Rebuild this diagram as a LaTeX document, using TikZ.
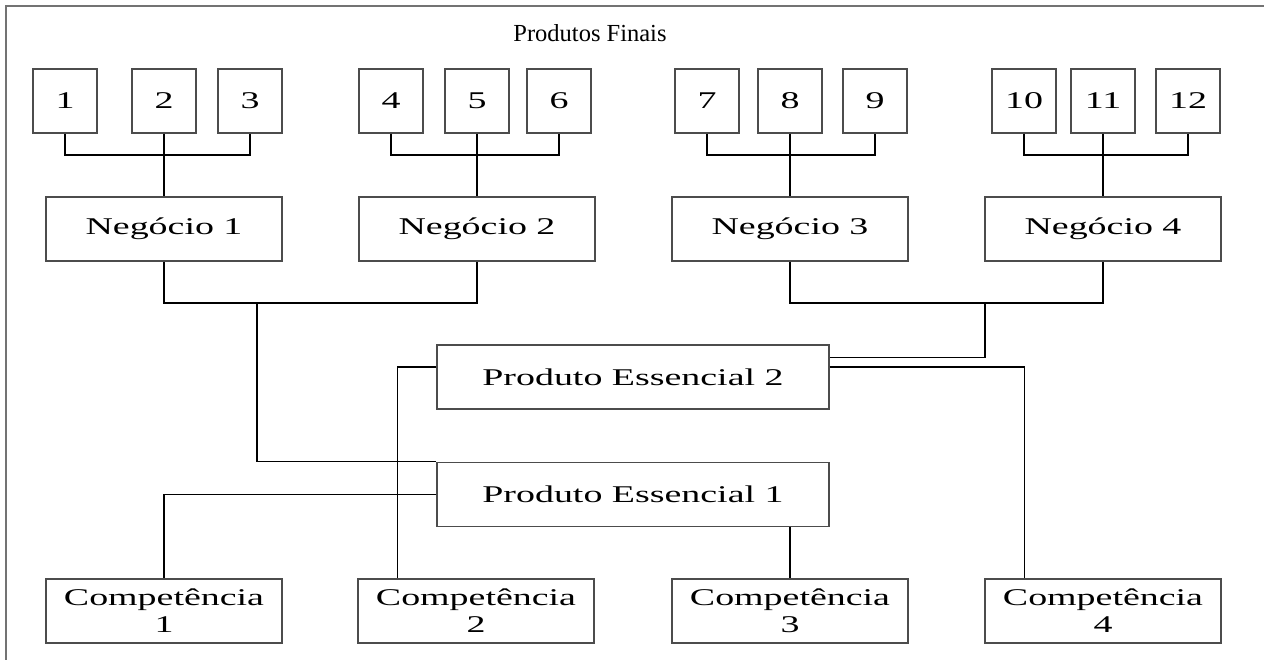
\documentclass[tikz,border=0pt]{standalone}
\usepackage{fontspec}
\setmainfont{Liberation Serif}
\newfontfamily\boxfont{Liberation Serif}[FakeStretch=1.58]
\usetikzlibrary{calc}

\definecolor{boxgray}{gray}{0.3}
\definecolor{framegray}{gray}{0.45}

\begin{document}
\begin{tikzpicture}[x=1pt,y=-1pt,
  box/.style={draw=boxgray, line width=1.4pt, rectangle, inner sep=0pt,
    minimum height=64pt, align=center,
    font=\boxfont\fontsize{24}{27}\selectfont},
  numbox/.style={box, minimum width=64pt},
  bizbox/.style={box, minimum width=236pt},
  corebox/.style={box, minimum width=392pt},
  compbox/.style={box, minimum width=236pt},
  link/.style={draw=black, line width=1.3pt},
  frameline/.style={draw=framegray, line width=2.4pt}]

\useasboundingbox (0,0) rectangle (1264,660);

% outer frame (top and left edges)
\draw[frameline] (6,660) -- (6,6) -- (1264,6);

% heading
\node (title) at (590,33) {\fontsize{24.5}{25}\selectfont Produtos Finais};

% final products
\node[numbox] (p1)  at (65,101)   {1};
\node[numbox] (p2)  at (164,101)  {2};
\node[numbox] (p3)  at (250,101)  {3};
\node[numbox] (p4)  at (391,101)  {4};
\node[numbox] (p5)  at (477,101)  {5};
\node[numbox] (p6)  at (559,101)  {6};
\node[numbox] (p7)  at (707,101)  {7};
\node[numbox] (p8)  at (790,101)  {8};
\node[numbox] (p9)  at (875,101)  {9};
\node[numbox] (p10) at (1024,101) {10};
\node[numbox] (p11) at (1103,101) {11};
\node[numbox] (p12) at (1188,101) {12};

% businesses
\node[bizbox] (n1) at (164,229)  {Negócio 1};
\node[bizbox] (n2) at (477,229)  {Negócio 2};
\node[bizbox] (n3) at (790,229)  {Negócio 3};
\node[bizbox] (n4) at (1103,229) {Negócio 4};

% core products
\node[corebox] (pe2) at (633,377)   {Produto Essencial 2};
\node[corebox] (pe1) at (633,494.5) {Produto Essencial 1};

% competences
\node[compbox] (c1) at (164,611)  {Competência\\1};
\node[compbox] (c2) at (476,611)  {Competência\\2};
\node[compbox] (c3) at (790,611)  {Competência\\3};
\node[compbox] (c4) at (1103,611) {Competência\\4};

% junction points
\coordinate (j1) at (164,155);
\coordinate (j2) at (477,155);
\coordinate (j3) at (790,155);
\coordinate (j4) at (1103,155);
\coordinate (m12) at (257,303);
\coordinate (m34) at (985,303);
\coordinate (pe2a) at ($(pe2.north east)+(0,13)$);
\coordinate (pe2b) at ($(pe2.east)+(0,-10)$);
\coordinate (pe2c) at ($(pe2.west)+(0,-10)$);
\coordinate (c2in) at ($(c2.north west)+(40,0)$);
\coordinate (c4in) at ($(c4.north west)+(40,0)$);

% products to businesses
\draw[link] (p1.south) |- (j1) -| (p3.south);
\draw[link] (p2.south) -- (n1.north);
\draw[link] (p4.south) |- (j2) -| (p6.south);
\draw[link] (p5.south) -- (n2.north);
\draw[link] (p7.south) |- (j3) -| (p9.south);
\draw[link] (p8.south) -- (n3.north);
\draw[link] (p10.south) |- (j4) -| (p12.south);
\draw[link] (p11.south) -- (n4.north);

% businesses to core products
\draw[link] (n1.south) |- (m12) -| (n2.south);
\draw[link] (m12) |- (pe1.north west);
\draw[link] (n3.south) |- (m34) -| (n4.south);
\draw[link] (m34) |- (pe2a);

% core products to competences
\draw[link] (pe1.west) -| (c1.north);
\draw[link] (pe1.south -| c3.north) -- (c3.north);
\draw[link] (pe2c) -| (c2in);
\draw[link] (pe2b) -| (c4in);

\end{tikzpicture}
\end{document}
